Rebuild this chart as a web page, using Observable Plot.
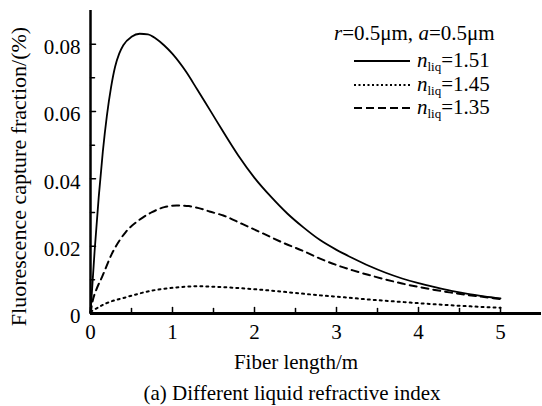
<!DOCTYPE html>
<html><head><meta charset="utf-8">
<script src="https://cdn.jsdelivr.net/npm/d3@7"></script>
<script src="https://cdn.jsdelivr.net/npm/@observablehq/plot@0.6"></script>
<style>
body{margin:0;background:#fff;}
#caption{width:542px;box-sizing:border-box;padding-left:42px;text-align:center;font-family:"Liberation Serif","Times New Roman",serif;font-size:21px;line-height:26px;color:#000;}
</style></head><body>
<div id="chart"></div>
<div id="caption">(a) Different liquid refractive index</div>
<script>
// ---- data ----
const seriesNames = ["1.51", "1.45", "1.35"];
const len151 = [0,0.05,0.1,0.15,0.2,0.25,0.3,0.35,0.4,0.5,0.6,0.7,0.8,0.9,1.0,1.16,1.3,1.4,1.5,1.6,1.8,2.0,2.2,2.4,2.6,2.8,3.0,3.2,3.4,3.6,3.8,4.0,4.2,4.4,4.6,4.8,5.0];
const frac151 = [0,0.0185,0.0345,0.048,0.0588,0.0671,0.0733,0.0772,0.0797,0.0822,0.0831,0.0829,0.0816,0.0796,0.0771,0.0720,0.0666,0.0627,0.0587,0.0547,0.0470,0.0403,0.0347,0.0297,0.0255,0.0218,0.0189,0.0164,0.0141,0.0121,0.0104,0.0090,0.0078,0.0067,0.0058,0.0051,0.0045];
const len145 = [0,0.05,0.18,0.43,0.75,1.08,1.3,1.56,1.9,2.2,2.5,2.8,3.1,3.37,3.7,4.1,4.5,5.0];
const frac145 = [0.0005,0.0012,0.0029,0.0048,0.0068,0.0078,0.0081,0.0079,0.0074,0.0068,0.0061,0.0054,0.0048,0.0042,0.0036,0.0029,0.0023,0.0017];
const len135 = [0,0.02,0.07,0.14,0.26,0.43,0.59,0.75,0.9,1.05,1.2,1.32,1.45,1.62,1.85,2.11,2.35,2.6,2.8,3.0,3.2,3.4,3.6,3.8,4.0,4.2,4.4,4.6,4.8,5.0];
const frac135 = [0,0.003,0.007,0.0108,0.0177,0.0242,0.0277,0.0301,0.0316,0.0321,0.0319,0.0313,0.0303,0.0291,0.0266,0.0237,0.021,0.0185,0.0163,0.0144,0.0128,0.0114,0.0101,0.0089,0.0079,0.0070,0.0062,0.0055,0.0049,0.0043];
const xMajor = [0,1,2,3,4,5];
const xMinor = [0.5,1.5,2.5,3.5,4.5];
const yMajor = [0,0.02,0.04,0.06,0.08];
const yMinor = [0.01,0.03,0.05,0.07];
const xTitle = "Fiber length/m";
const yTitle = "Fluorescence capture fraction/(%)";

const toRows = (xs, ys, s) => xs.map((x, i) => ({x, y: ys[i], s}));
const d151 = toRows(len151, frac151, seriesNames[0]);
const d145 = toRows(len145, frac145, seriesNames[1]);
const d135 = toRows(len135, frac135, seriesNames[2]);

const tickUp = {draw(ctx, l) { ctx.moveTo(0, 0); ctx.lineTo(0, -l); }};
const font = "Liberation Serif, Times New Roman, serif";

const chart = Plot.plot({
  width: 542, height: 380,
  marginLeft: 90, marginRight: 1, marginTop: 10, marginBottom: 67,
  style: {fontFamily: font, fontSize: "21px", background: "#fff", color: "#000"},
  x: {domain: [0, 5.5]},
  y: {domain: [0, 0.09]},
  marks: [
    Plot.line(d151, {x: "x", y: "y", stroke: "#000", strokeWidth: 1.8, curve: "monotone-x"}),
    Plot.line(d145, {x: "x", y: "y", stroke: "#000", strokeWidth: 2, strokeDasharray: "2,4", curve: "monotone-x"}),
    Plot.line(d135, {x: "x", y: "y", stroke: "#000", strokeWidth: 2, strokeDasharray: "7,5", curve: "monotone-x"}),
    Plot.ruleY([0], {stroke: "#000", strokeWidth: 3}),
    Plot.ruleX([0], {stroke: "#000", strokeWidth: 2.5}),
    Plot.vector(xMajor, {x: d => d, y: 0, length: 6, rotate: 0, anchor: "start", shape: tickUp, stroke: "#000", strokeWidth: 1.5}),
    Plot.vector(xMinor, {x: d => d, y: 0, length: 5, rotate: 0, anchor: "start", shape: tickUp, stroke: "#000", strokeWidth: 1.5}),
    Plot.vector(yMajor.slice(1), {x: 0, y: d => d, length: 5, rotate: 90, anchor: "start", shape: tickUp, stroke: "#000", strokeWidth: 1.5}),
    Plot.vector(yMinor, {x: 0, y: d => d, length: 4, rotate: 90, anchor: "start", shape: tickUp, stroke: "#000", strokeWidth: 1.5}),
    Plot.axisX({ticks: xMajor, tickSize: 0, tickPadding: 11, fontSize: 21, label: null, tickFormat: d => String(d)}),
    Plot.axisY({ticks: yMajor, tickSize: 0, tickPadding: 10, fontSize: 21, dy: 3, label: null, tickFormat: d => d === 0 ? "0" : d.toFixed(2)}),
    Plot.text([xTitle], {frameAnchor: "bottom", textAnchor: "middle", dx: -20, dy: 55, lineAnchor: "bottom", fontSize: 21, fill: "#000"}),
    Plot.text([yTitle], {frameAnchor: "left", textAnchor: "middle", rotate: -90, dx: -72, dy: 14.5, lineAnchor: "middle", fontSize: 22, fill: "#000"})
  ]
});
document.getElementById("chart").appendChild(chart);

// ---- legend ----
const svg = d3.select(chart);
const lg = svg.append("g").attr("font-family", font).attr("font-size", 21).attr("fill", "#000").attr("text-anchor", "start");
const head = lg.append("text").attr("x", 334).attr("y", 40);
head.append("tspan").attr("font-style", "italic").text("r");
head.append("tspan").text("=0.5μm, ");
head.append("tspan").attr("font-style", "italic").text("a");
head.append("tspan").text("=0.5μm");
const dashes = [null, "2,2.5", "8,4"];
const widths = [1.8, 2, 2];
const textY = [67, 91, 114];
seriesNames.forEach((name, i) => {
  lg.append("line").attr("x1", 354).attr("x2", 410).attr("y1", textY[i] - 6).attr("y2", textY[i] - 6)
    .attr("stroke", "#000").attr("stroke-width", widths[i]).attr("stroke-dasharray", dashes[i]);
  const t = lg.append("text").attr("x", 417).attr("y", textY[i]);
  t.append("tspan").attr("font-style", "italic").text("n");
  t.append("tspan").attr("font-size", 13).attr("dy", 4).text("liq");
  t.append("tspan").attr("dy", -4).text("=" + name);
});
</script>
</body></html>
